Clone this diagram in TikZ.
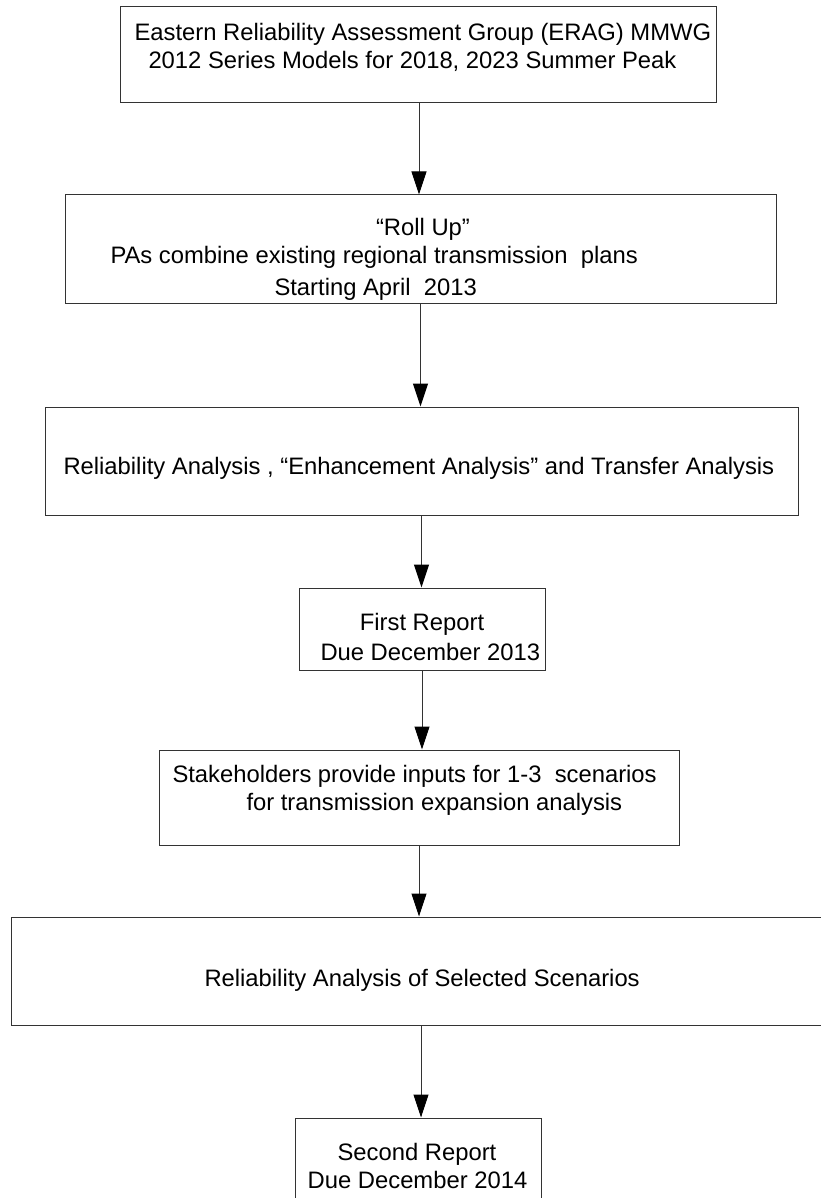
\documentclass[tikz,border=0pt]{standalone}
\usepackage{fontspec}
\setmainfont{Liberation Sans}
\usepackage{tikz}
\usetikzlibrary{arrows.meta}

\begin{document}
\begin{tikzpicture}[x=1pt, y=-1pt, line width=1pt,
      every node/.append style={font=\fontsize{23.8}{28}\selectfont, inner sep=0pt}]
    \tikzstyle{box} = [draw=black!80, rectangle]
    \tikzstyle{line} = [anchor=base west]
    \tikzstyle{mid} = [anchor=base]
    \tikzstyle{flow} = [black!80, -{Triangle[length=23pt,width=15pt,color=black]}]
    \useasboundingbox (0,0) rectangle (820,1198);
    % the steps, top to bottom
    \node (erag) [box, minimum width=596pt, minimum height=96pt] at (418,55) {};
    \node (rollup) [box, minimum width=711pt, minimum height=108pt] at (420.5,249) {};
    \node (analysis) [box, minimum width=753pt, minimum height=108pt] at (421.5,461) {};
    \node (first) [box, minimum width=246pt, minimum height=82pt] at (422,629) {};
    \node (inputs) [box, minimum width=520pt, minimum height=95pt] at (419,797.5) {};
    \node (selected) [box, minimum width=824pt, minimum height=108pt] at (423,971) {};
    \node (second) [box, minimum width=246pt, minimum height=97pt] at (418,1166.5) {};
    % texts
    \node (erag1) [line] at (134,40.5) {Eastern Reliability Assessment Group (ERAG) MMWG};
    \node (erag2) [line] at (148,68.5) {2012 Series Models for 2018, 2023 Summer Peak};
    \node (rollup1) [mid] at (423,235.5) {“Roll Up”};
    \node (rollup2) [line] at (110,263.5) {PAs combine existing regional transmission~ plans};
    \node (rollup3) [line] at (274,295.5) {Starting April~ 2013};
    \node (analysis1) [line] at (63,474.5) {Reliability Analysis , “Enhancement Analysis” and Transfer Analysis};
    \node (first1) [mid] at (422,630.5) {First Report};
    \node (first2) [line] at (320,660.5) {Due December 2013};
    \node (inputs1) [line] at (172,782.5) {Stakeholders provide inputs for 1-3~ scenarios};
    \node (inputs2) [line] at (246,810.5) {for transmission expansion analysis};
    \node (selected1) [line] at (204,986.5) {Reliability Analysis of Selected Scenarios};
    \node (second1) [mid] at (417,1160.5) {Second Report};
    \node (second2) [mid] at (417.5,1188.5) {Due December 2014};
    % connectors
    \draw[flow] (erag.south) ++(1,0) coordinate (s1) -- (s1 |- rollup.north);
    \draw[flow] (rollup.south) -- (rollup.south |- analysis.north);
    \draw[flow] (analysis.south) -- (analysis.south |- first.north);
    \draw[flow] (first.south) -- (first.south |- inputs.north);
    \draw[flow] (inputs.south) -- (inputs.south |- selected.north);
    \draw[flow] (second.north -| selected.south) ++(-2,0) coordinate (s6) (selected.south -| s6) -- (s6);
\end{tikzpicture}
\end{document}
